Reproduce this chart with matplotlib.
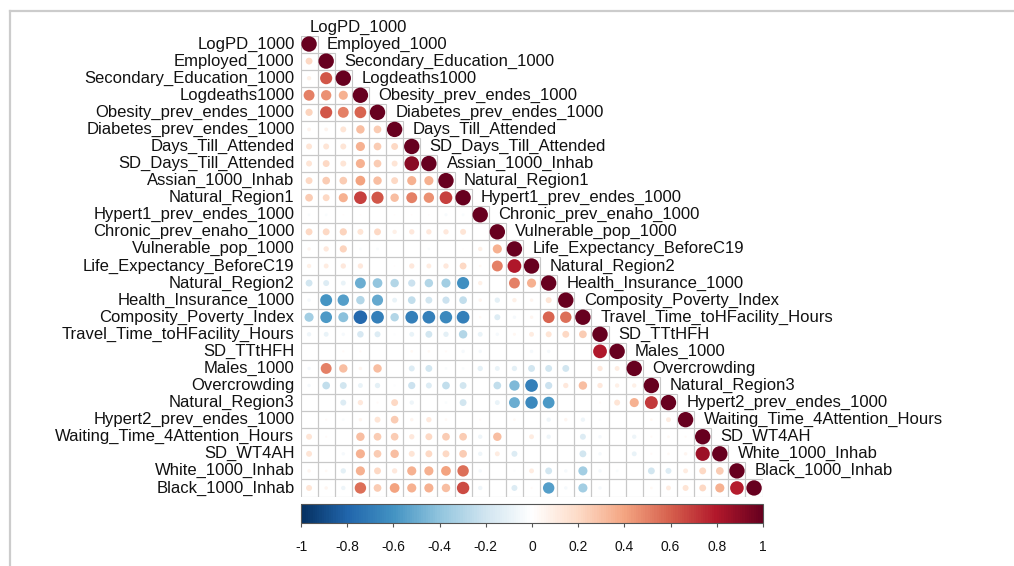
import numpy as np
import matplotlib
matplotlib.use('Agg')
import matplotlib.pyplot as plt
from matplotlib.colors import LinearSegmentedColormap
from matplotlib.patches import Circle, Rectangle
from matplotlib.lines import Line2D
import matplotlib.cm as cm

plt.rcParams['font.family'] = ['Liberation Sans', 'DejaVu Sans']

labels = ['LogPD_1000', 'Employed_1000', 'Secondary_Education_1000', 'Logdeaths1000',
          'Obesity_prev_endes_1000', 'Diabetes_prev_endes_1000', 'Days_Till_Attended',
          'SD_Days_Till_Attended', 'Assian_1000_Inhab', 'Natural_Region1',
          'Hypert1_prev_endes_1000', 'Chronic_prev_enaho_1000', 'Vulnerable_pop_1000',
          'Life_Expectancy_BeforeC19', 'Natural_Region2', 'Health_Insurance_1000',
          'Composity_Poverty_Index', 'Travel_Time_toHFacility_Hours', 'SD_TTtHFH',
          'Males_1000', 'Overcrowding', 'Natural_Region3', 'Hypert2_prev_endes_1000',
          'Waiting_Time_4Attention_Hours', 'SD_WT4AH', 'White_1000_Inhab', 'Black_1000_Inhab']

# lower triangle, row i holds correlations with columns 0..i-1
lower = [
    [],
    [0.2],
    [0.08, 0.62],
    [0.5, 0.45, 0.35],
    [0.22, 0.62, 0.5, 0.58],
    [0.06, 0.06, 0.15, 0.3, 0.25],
    [0.15, 0.15, 0.15, 0.35, 0.25, 0.2],
    [0.15, 0.2, 0.15, 0.35, 0.25, 0.15, 0.9],
    [0.2, 0.25, 0.25, 0.4, 0.3, 0.2, 0.35, 0.35],
    [0.25, 0.2, 0.35, 0.68, 0.62, 0.3, 0.5, 0.45, 0.68],
    [-0.03, -0.03, 0.01, 0.01, 0.0, 0.01, 0.01, 0.01, -0.04, -0.03],
    [0.2, 0.2, 0.22, 0.15, 0.2, 0.08, 0.12, 0.12, 0.12, 0.15, 0.0],
    [0.05, 0.12, 0.22, -0.03, -0.03, 0.0, 0.0, -0.03, 0.0, 0.01, 0.08, 0.35],
    [0.08, 0.1, 0.12, 0.12, 0.0, 0.01, 0.12, 0.1, 0.12, 0.2, 0.03, 0.5, 0.8],
    [-0.2, -0.15, -0.1, -0.5, -0.4, -0.3, -0.22, -0.3, -0.35, -0.62, 0.08, 0.0, 0.5, 0.35],
    [-0.05, -0.6, -0.55, -0.3, -0.52, -0.1, -0.25, -0.2, -0.22, -0.25, 0.05, -0.12, 0.08, 0.05, 0.15],
    [-0.35, -0.58, -0.42, -0.78, -0.68, -0.3, -0.68, -0.68, -0.65, -0.68, 0.03, -0.15, -0.05, 0.05, 0.58, 0.55],
    [-0.08, -0.1, -0.05, -0.18, -0.15, -0.02, -0.1, -0.2, -0.12, -0.3, -0.1, -0.05, 0.04, 0.1, 0.15, 0.2, 0.25],
    [0.0, 0.0, 0.02, 0.02, 0.0, 0.0, 0.03, 0.03, 0.02, -0.05, -0.05, 0.0, 0.0, -0.05, -0.05, 0.0, 0.0, 0.8],
    [-0.05, 0.5, 0.3, 0.05, 0.3, 0.0, -0.15, -0.2, -0.03, -0.03, -0.12, -0.1, -0.12, -0.2, -0.2, -0.2, 0.0, 0.12, 0.1],
    [-0.05, -0.25, -0.2, -0.1, -0.12, -0.02, -0.22, -0.15, -0.25, -0.2, 0.0, -0.25, -0.45, -0.68, -0.22, 0.12, 0.3, 0.12, 0.08, 0.08],
    [0.0, 0.0, -0.15, 0.12, 0.02, 0.2, -0.08, 0.0, -0.03, -0.2, 0.0, -0.1, -0.5, -0.65, -0.58, 0.0, 0.0, 0.02, 0.15, 0.35, 0.7],
    [0.0, 0.02, -0.03, 0.05, 0.15, 0.25, 0.05, 0.12, 0.03, 0.0, 0.02, 0.0, 0.03, 0.0, -0.08, 0.05, -0.08, -0.02, 0.0, 0.0, 0.03, 0.1],
    [0.15, 0.02, 0.0, 0.3, 0.25, 0.25, 0.12, 0.2, 0.25, 0.25, -0.08, 0.3, 0.0, 0.1, -0.08, 0.0, -0.15, -0.05, 0.0, -0.08, 0.02, 0.03, 0.02],
    [0.15, 0.0, -0.05, 0.35, 0.25, 0.3, 0.15, 0.2, 0.2, 0.25, -0.08, 0.1, -0.15, 0.0, 0.0, 0.0, -0.2, -0.05, 0.0, -0.1, 0.02, 0.03, 0.05, 0.85],
    [0.05, 0.03, -0.12, 0.35, 0.2, 0.12, 0.35, 0.35, 0.4, 0.55, -0.05, 0.0, -0.02, 0.1, -0.2, -0.05, -0.35, -0.05, -0.03, 0.0, -0.2, -0.15, 0.1, 0.2, 0.25],
    [0.15, 0.05, -0.08, 0.55, 0.25, 0.4, 0.35, 0.35, 0.3, 0.65, -0.08, 0.0, -0.15, 0.02, -0.55, -0.05, -0.35, -0.05, 0.0, 0.0, 0.03, 0.1, 0.15, 0.2, 0.35, 0.78],
]

cb_ticks = [-1, -0.8, -0.6, -0.4, -0.2, 0, 0.2, 0.4, 0.6, 0.8, 1]
cb_labels = ['-1', '-0.8', '-0.6', '-0.4', '-0.2', '0', '0.2', '0.4', '0.6', '0.8', '1']

n = len(labels)
corr = np.eye(n)
for i, row in enumerate(lower):
    corr[i, :len(row)] = row

cmap = LinearSegmentedColormap.from_list('corr', ["#053061", "#2166AC", "#4393C3", "#92C5DE", "#D1E5F0",
                                                   "#FFFFFF", "#FDDBC7", "#F4A582", "#D6604D", "#B2182B",
                                                   "#67001F"], N=200)
norm = plt.Normalize(-1, 1)

fig = plt.figure(figsize=(10.14, 5.66), dpi=100)
ax = fig.add_axes([300.5 / 1014, 69.5 / 566, 462.1 / 1014, 461 / 566])
ax.set_xlim(-0.5, n - 0.5)
ax.set_ylim(n - 0.5, -0.5)
ax.axis('off')

# cell grid (lower triangle incl. diagonal)
for i in range(n):
    for j in range(i + 1):
        ax.add_patch(Rectangle((j - 0.5, i - 0.5), 1, 1, facecolor='none',
                               edgecolor='#C8C8C8', lw=0.8, zorder=1))
# circles: area ~ |r|
for i in range(n):
    for j in range(i + 1):
        r = corr[i, j]
        if r == 0:
            continue
        ax.add_patch(Circle((j, i), 0.45 * np.sqrt(abs(r)), facecolor=cmap(norm(r)),
                            edgecolor='none', zorder=2))

for i, lab in enumerate(labels):
    ax.text(-0.85, i, lab, ha='right', va='center', fontsize=12, color='#111111', clip_on=False)
    ax.text(i + 0.05, i - 1.0, lab, ha='left', va='center', fontsize=12, color='#111111',
            clip_on=False, zorder=3)

cax = fig.add_axes([301 / 1014, 43 / 566, 462 / 1014, 19 / 566])
cb = fig.colorbar(cm.ScalarMappable(norm=norm, cmap=cmap), cax=cax, orientation='horizontal')
cb.set_ticks(cb_ticks)
cb.set_ticklabels(cb_labels)
cb.outline.set_edgecolor('#555555')
cb.outline.set_linewidth(0.8)
cax.tick_params(length=3, width=0.8, color='#555555', labelsize=10, pad=9, labelcolor='#111111')

# light frame like the screenshot
fig.add_artist(Line2D([10 / 1014, 1], [1 - 10.5 / 566, 1 - 10.5 / 566], transform=fig.transFigure,
                      color='#CCCCCC', lw=1.6))
fig.add_artist(Line2D([10 / 1014, 10 / 1014], [0, 1 - 10.5 / 566], transform=fig.transFigure,
                      color='#CCCCCC', lw=1.6))

fig.savefig('out.png', dpi=100)
